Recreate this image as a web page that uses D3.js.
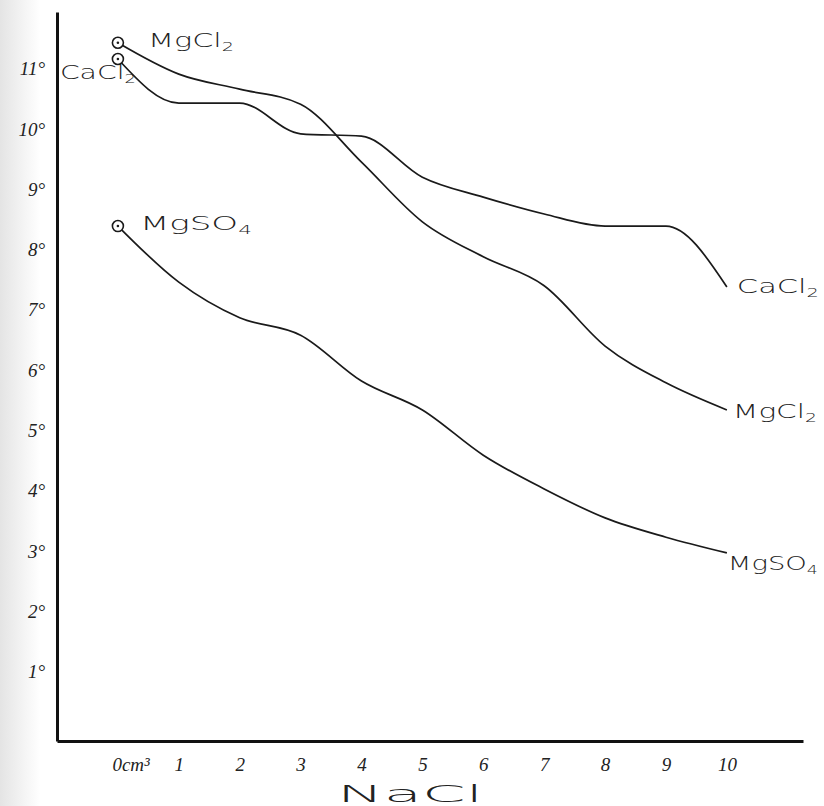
<!DOCTYPE html>
<html>
<head>
<meta charset="utf-8">
<script src="https://cdn.jsdelivr.net/npm/d3@7"></script>
<style>
  body { margin: 0; background: #fff; }
  svg { display: block; }
</style>
</head>
<body>
<div id="chart"></div>
<script>
// NaCl added (cm3) on the x axis, degrees on the y axis
const nacl = [0, 1, 2, 3, 4, 5, 6, 7, 8, 9, 10];
const mgcl2 = [11.43, 10.91, 10.66, 10.41, 9.45, 8.46, 7.88, 7.40, 6.40, 5.79, 5.34];
const cacl2 = [11.16, 10.43, 10.43, 9.92, 9.88, 9.20, 8.87, 8.59, 8.39, 8.39, 7.38];
const mgso4 = [8.39, 7.46, 6.87, 6.58, 5.82, 5.34, 4.59, 4.03, 3.55, 3.23, 2.97];
const yTicks = [1, 2, 3, 4, 5, 6, 7, 8, 9, 10, 11];

const w = 824;
const h = 806;

const svg = d3.select("#chart")
      .append("svg")
      .attr("width", w)
      .attr("height", h);

// scan shadow on the left edge
const grad = svg.append("defs").append("linearGradient")
      .attr("id", "shade");
grad.append("stop").attr("offset", "0").attr("stop-color", "#e4e4e4");
grad.append("stop").attr("offset", "1").attr("stop-color", "#fff");
svg.append("rect").attr("width", 40).attr("height", h).attr("fill", "url(#shade)");

const x = d3.scaleLinear().domain([-1, 11.25]).range([57, 803]);
const y = d3.scaleLinear().domain([-0.15, 11.94]).range([741, 12]);

const tickFont = "'Liberation Serif', 'DejaVu Serif', serif";
const chemFont = "'DejaVu Sans', sans-serif";

// axes
const yAxis = svg.append("g")
      .attr("transform", `translate(${x(-1)},0)`)
      .call(d3.axisLeft(y).tickValues(yTicks).tickSize(0).tickPadding(12)
            .tickFormat((d) => d + "°"));
const xAxis = svg.append("g")
      .attr("transform", `translate(0,${y(-0.15)})`)
      .call(d3.axisBottom(x).tickValues(nacl).tickSize(0).tickPadding(17)
            .tickFormat((d) => d === 0 ? "0cm³" : d));

[yAxis, xAxis].forEach((a) => {
  a.select(".domain").attr("stroke", "#111").attr("stroke-width", 3);
  a.selectAll("text")
    .attr("font-family", tickFont)
    .attr("font-style", "italic")
    .attr("font-size", 19)
    .attr("fill", "#222");
});
xAxis.selectAll(".tick text").filter((d) => d === 0)
      .attr("text-anchor", "start").attr("x", -6);

svg.append("text")
      .attr("x", 410)
      .attr("y", 802)
      .attr("text-anchor", "middle")
      .attr("font-family", chemFont)
      .attr("font-size", 23)
      .attr("font-weight", 200)
      .attr("textLength", 146)
      .attr("lengthAdjust", "spacingAndGlyphs")
      .attr("fill", "#222")
      .text("NaCl");

// curves
const series = [
  {name: "MgCl", sub: "2", values: mgcl2},
  {name: "CaCl", sub: "2", values: cacl2},
  {name: "MgSO", sub: "4", values: mgso4}
];

const line = d3.line()
      .x((d, i) => x(nacl[i]))
      .y((d) => y(d))
      .curve(d3.curveMonotoneX);

svg.selectAll("path.curve")
      .data(series)
      .enter()
      .append("path")
      .attr("class", "curve")
      .attr("d", (d) => line(d.values))
      .attr("fill", "none")
      .attr("stroke", "#1a1a1a")
      .attr("stroke-width", 1.7);

// start markers
svg.selectAll("circle.mark")
      .data(series)
      .enter()
      .append("circle")
      .attr("class", "mark")
      .attr("cx", x(0))
      .attr("cy", (d) => y(d.values[0]))
      .attr("r", 5.5)
      .attr("fill", "#fff")
      .attr("stroke", "#1a1a1a")
      .attr("stroke-width", 1.6);
svg.selectAll("circle.dot")
      .data(series)
      .enter()
      .append("circle")
      .attr("class", "dot")
      .attr("cx", x(0))
      .attr("cy", (d) => y(d.values[0]))
      .attr("r", 1.3)
      .attr("fill", "#1a1a1a");

// labels: where each name sits relative to start / end point
const labels = [
  {s: 0, at: 0, dx: 30, dy: 4, len: 86},
  {s: 1, at: 0, dx: -58, dy: 20, len: 76},
  {s: 2, at: 0, dx: 22, dy: 4, len: 112},
  {s: 1, at: 10, dx: 10, dy: 6, len: 82},
  {s: 0, at: 10, dx: 6, dy: 8, len: 84},
  {s: 2, at: 10, dx: 1, dy: 17, len: 90}
];

labels.forEach((l) => {
  const s = series[l.s];
  const t = svg.append("text")
        .attr("x", x(nacl[l.at]) + l.dx)
        .attr("y", y(s.values[l.at]) + l.dy)
        .attr("font-family", chemFont)
        .attr("font-size", 19)
        .attr("font-weight", 200)
        .attr("textLength", l.len)
        .attr("lengthAdjust", "spacingAndGlyphs")
        .attr("fill", "#222");
  t.append("tspan").text(s.name);
  t.append("tspan").attr("dy", 4).attr("font-size", 12).text(s.sub);
});
</script>
</body>
</html>
